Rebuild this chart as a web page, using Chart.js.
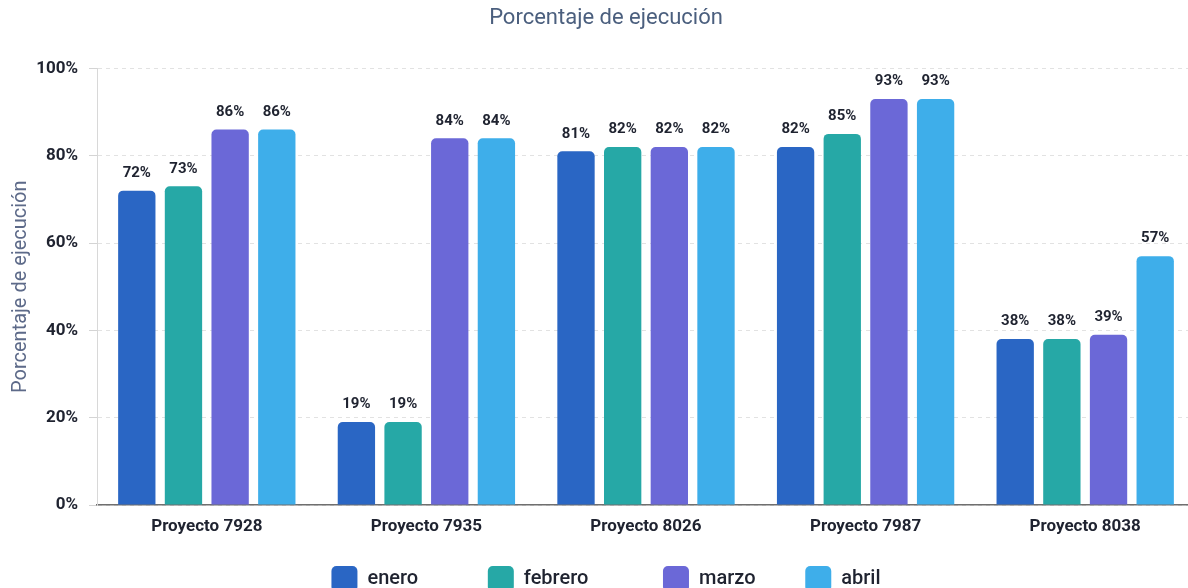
<!DOCTYPE html>
<html lang="es">
<head>
    <meta charset="UTF-8">
    <title>Porcentaje de ejecución</title>
    <script src="https://cdn.jsdelivr.net/npm/chart.js"></script>
    <style>
        html, body {
            margin: 0;
            padding: 0;
            background: #ffffff;
            overflow: hidden;
        }
        .frame {
            width: 1188px;
            height: 588px;
            overflow: hidden;
        }
        .chart-wrapper {
            position: relative;
            width: 1210px;
            height: 602px;
        }
    </style>
</head>
<body>
    <div class="frame">
        <div class="chart-wrapper">
            <canvas id="chart"></canvas>
        </div>
    </div>
    <script>
        const proyectos = ['Proyecto 7928', 'Proyecto 7935', 'Proyecto 8026', 'Proyecto 7987', 'Proyecto 8038'];
        const enero = [72, 19, 81, 82, 38];
        const febrero = [73, 19, 82, 85, 38];
        const marzo = [86, 84, 82, 93, 39];
        const abril = [86, 84, 82, 93, 57];
        const yTicks = [0, 20, 40, 60, 80, 100];

        const fontFamily = 'Roboto, "Noto Sans", sans-serif';
        // spaces after each legend label, to spread the items like the original
        const legendGaps = [12, 13, 8, 0];

        // draws the value above each bar (no datalabels plugin available offline)
        const valueLabels = {
            id: 'valueLabels',
            afterDatasetsDraw(chart) {
                const ctx = chart.ctx;
                ctx.save();
                ctx.font = `bold 15px ${fontFamily}`;
                ctx.fillStyle = '#1f2330';
                ctx.textAlign = 'center';
                ctx.textBaseline = 'bottom';
                chart.data.datasets.forEach((ds, i) => {
                    const meta = chart.getDatasetMeta(i);
                    meta.data.forEach((bar, j) => {
                        ctx.fillText(ds.data[j] + '%', bar.x, bar.y - 10);
                    });
                });
                ctx.restore();
            }
        };

        function makeSet(label, data, color) {
            return {
                label: label,
                data: data,
                backgroundColor: color,
                borderRadius: 5,
                borderSkipped: 'bottom',
                categoryPercentage: 0.85,
                barPercentage: 0.8
            };
        }

        new Chart(document.getElementById('chart'), {
            type: 'bar',
            data: {
                labels: proyectos,
                datasets: [
                    makeSet('enero', enero, '#2a66c4'),
                    makeSet('febrero', febrero, '#26a8a6'),
                    makeSet('marzo', marzo, '#6b68d7'),
                    makeSet('abril', abril, '#3eaeea')
                ]
            },
            options: {
                responsive: true,
                maintainAspectRatio: false,
                animation: false,
                layout: {
                    padding: { left: 17, right: 15, top: 0, bottom: 0 }
                },
                scales: {
                    x: {
                        grid: { display: false },
                        border: { color: '#6f6f6f', width: 1.5 },
                        afterFit: (scale) => { scale.height = 51; },
                        ticks: {
                            color: '#1f2330',
                            padding: 4,
                            font: { family: fontFamily, size: 17, weight: 'bold' }
                        }
                    },
                    y: {
                        min: 0,
                        max: 100,
                        afterBuildTicks: (axis) => {
                            axis.ticks = yTicks.map(v => ({ value: v }));
                        },
                        afterFit: (scale) => { scale.width = 80; },
                        grid: {
                            color: '#e2e2e2',
                            tickColor: '#d4d4d4',
                            tickLength: 8
                        },
                        border: { color: '#d8d8d8', dash: [4, 4] },
                        ticks: {
                            color: '#1f2330',
                            padding: 11,
                            font: { family: fontFamily, size: 17, weight: 'bold' },
                            callback: (v) => v + '%'
                        },
                        title: {
                            display: true,
                            text: 'Porcentaje de ejecución',
                            color: '#5d6a89',
                            padding: { top: -8, bottom: 0 },
                            font: { family: fontFamily, size: 20 }
                        }
                    }
                },
                plugins: {
                    title: {
                        display: true,
                        text: 'Porcentaje de ejecución',
                        color: '#4b5f7e',
                        padding: { top: 5, bottom: 37 },
                        font: { family: fontFamily, size: 22, weight: 'normal' }
                    },
                    legend: {
                        position: 'bottom',
                        labels: {
                            color: '#1f2330',
                            boxWidth: 26,
                            boxHeight: 26,
                            useBorderRadius: true,
                            borderRadius: 5,
                            padding: 10,
                            font: { family: fontFamily, size: 20, weight: '500' },
                            generateLabels: (chart) => {
                                const items = Chart.defaults.plugins.legend.labels.generateLabels(chart);
                                items.forEach((it, i) => {
                                    it.lineWidth = 0;
                                    it.text = it.text + ' '.repeat(legendGaps[i]);
                                });
                                return items;
                            }
                        }
                    },
                    tooltip: { enabled: false }
                }
            },
            plugins: [valueLabels]
        });
    </script>
</body>
</html>
